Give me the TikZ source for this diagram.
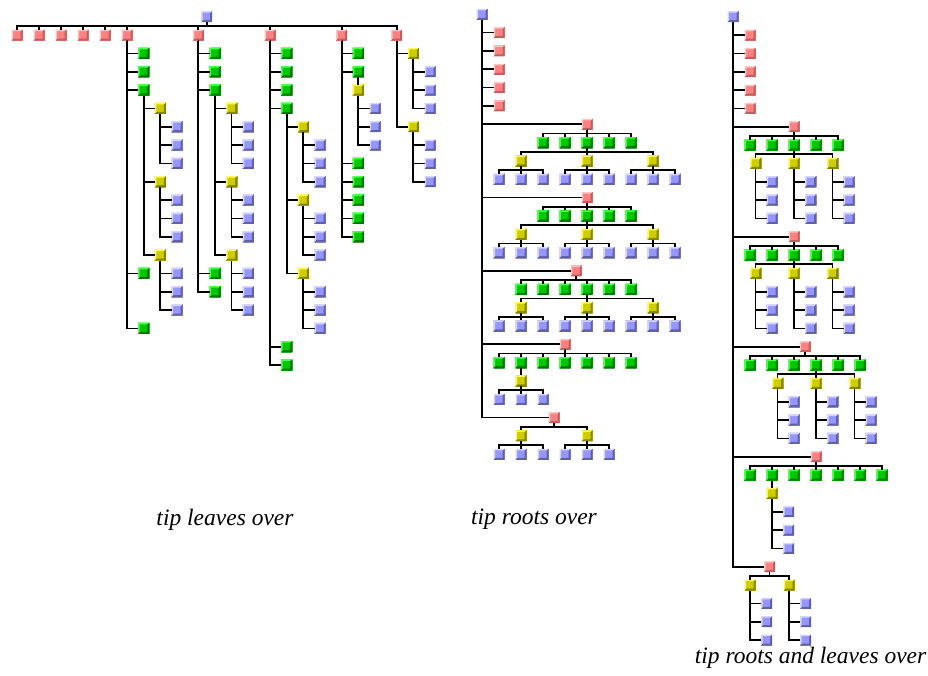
\documentclass[tikz,border=0pt]{standalone}
\usepackage{fontspec}
\setmainfont{Liberation Serif}

\definecolor{cellblue}{RGB}{150,150,255}
\definecolor{cellred}{RGB}{255,128,128}
\definecolor{cellgreen}{RGB}{0,200,0}
\definecolor{cellyellow}{RGB}{205,205,0}

\newcommand{\tipto}[2]{\draw[link] (#1.south) |- (#2.west);}
\newcommand{\barto}[2]{\draw[link] (#1.south) -- ++(0,0.2) -| (#2.north);}

\begin{document}
\begin{tikzpicture}[
		x=1pt, y=-18.333pt,
		cell/.style={rectangle, minimum size=11pt, inner sep=0pt, outer sep=0pt},
		bevel/.style 2 args={path picture={
				\fill[#1] (path picture bounding box.south west) |- (path picture bounding box.north east)
					-- ++(-1.5pt,-1.5pt) -| ([shift={(1.5pt,1.5pt)}]path picture bounding box.south west) -- cycle;
				\fill[#2] (path picture bounding box.south west) -| (path picture bounding box.north east)
					-- ++(-2pt,-2pt) |- ([shift={(2pt,2pt)}]path picture bounding box.south west) -- cycle;
		}},
		bluecell/.style={cell, fill=cellblue, bevel={cellblue!40!white}{cellblue!65!black}},
		redcell/.style={cell, fill=cellred, bevel={cellred!45!white}{cellred!75!black}},
		greencell/.style={cell, fill=cellgreen, bevel={green!70!white}{cellgreen!60!black}},
		yellowcell/.style={cell, fill=cellyellow, bevel={yellow!60!white}{cellyellow!65!black}},
		link/.style={line width=1.7pt, black},
		captext/.style={font=\fontsize{23.5}{28}\selectfont\itshape, inner sep=0pt}
	]
	\useasboundingbox (0pt,0pt) rectangle (928pt,-675pt);
	
	% tip leaves over
	\begin{scope}[yshift=-16.7pt]
		\node[bluecell] (L) at (206.7,0) {};
		\foreach \i in {1,...,6}
			\node[redcell] (L\i) at ({17+22*(\i-1)},1) {};
		\node[redcell] (L7) at (198.3,1) {};
		\node[redcell] (L8) at (270,1) {};
		\node[redcell] (L9) at (341.7,1) {};
		\node[redcell] (L10) at (396.7,1) {};
		\foreach \i in {1,...,10}
			\barto{L}{L\i}
		% L6 and L7 differ only in the last green
		\foreach \t/\x/\last in {6/127/17, 7/198.3/15}{
			\foreach \g/\row in {1/2, 2/3, 3/4, 4/14, 5/\last}{
				\node[greencell] (L\t g\g) at (\x+16.7,\row) {};
				\tipto{L\t}{L\t g\g}
			}
			\foreach \y/\row in {1/5, 2/9, 3/13}{
				\node[yellowcell] (L\t g3y\y) at (\x+33.3,\row) {};
				\tipto{L\t g3}{L\t g3y\y}
				\foreach \lf in {1,2,3}{
					\node[bluecell] (L\t g3y\y b\lf) at (\x+50,\row+\lf) {};
					\tipto{L\t g3y\y}{L\t g3y\y b\lf}
				}
			}
		}
		\foreach \g/\row in {1/2, 2/3, 3/4, 4/5, 5/18, 6/19}{
			\node[greencell] (L8g\g) at (286.7,\row) {};
			\tipto{L8}{L8g\g}
		}
		\foreach \y/\row in {1/6, 2/10, 3/14}{
			\node[yellowcell] (L8g4y\y) at (303.3,\row) {};
			\tipto{L8g4}{L8g4y\y}
			\foreach \lf in {1,2,3}{
				\node[bluecell] (L8g4y\y b\lf) at (320,\row+\lf) {};
				\tipto{L8g4y\y}{L8g4y\y b\lf}
			}
		}
		\foreach \g/\row in {1/2, 2/3, 3/8, 4/9, 5/10, 6/11, 7/12}{
			\node[greencell] (L9g\g) at (358.3,\row) {};
			\tipto{L9}{L9g\g}
		}
		\node[yellowcell] (L9g2y1) at (358.3,4) {};
		\barto{L9g2}{L9g2y1}
		\foreach \lf in {1,2,3}{
			\node[bluecell] (L9g2y1b\lf) at (375,4+\lf) {};
			\tipto{L9g2y1}{L9g2y1b\lf}
		}
		\foreach \y/\row in {1/2, 2/6}{
			\node[yellowcell] (L10y\y) at (413.3,\row) {};
			\tipto{L10}{L10y\y}
			\foreach \lf in {1,2,3}{
				\node[bluecell] (L10y\y b\lf) at (430,\row+\lf) {};
				\tipto{L10y\y}{L10y\y b\lf}
			}
		}
	\end{scope}
	
	% tip roots over
	\begin{scope}[yshift=-14.3pt]
		\node[bluecell] (M) at (482,0) {};
		\foreach \i in {1,...,5}
			\node[redcell] (M\i) at (499,\i) {};
		\node[redcell] (M6) at (587,6) {};
		\node[redcell] (M7) at (587,10) {};
		\node[redcell] (M8) at (576,14) {};
		\node[redcell] (M9) at (565,18) {};
		\node[redcell] (M10) at (554,22) {};
		\foreach \i in {1,...,10}
			\tipto{M}{M\i}
		\foreach \t/\row in {6/6, 7/10}{
			\foreach \g in {1,...,5}{
				\node[greencell] (M\t g\g) at ({521+22*\g},\row+1) {};
				\barto{M\t}{M\t g\g}
			}
			\foreach \y in {1,2,3}{
				\node[yellowcell] (M\t g3y\y) at ({455+66*\y},\row+2) {};
				\barto{M\t g3}{M\t g3y\y}
				\foreach \lf in {1,2,3}{
					\node[bluecell] (M\t g3y\y b\lf) at ({411+66*\y+22*\lf},\row+3) {};
					\barto{M\t g3y\y}{M\t g3y\y b\lf}
				}
			}
		}
		\foreach \g in {1,...,6}{
			\node[greencell] (M8g\g) at ({499+22*\g},15) {};
			\barto{M8}{M8g\g}
		}
		\foreach \y in {1,2,3}{
			\node[yellowcell] (M8g4y\y) at ({455+66*\y},16) {};
			\barto{M8g4}{M8g4y\y}
			\foreach \lf in {1,2,3}{
				\node[bluecell] (M8g4y\y b\lf) at ({411+66*\y+22*\lf},17) {};
				\barto{M8g4y\y}{M8g4y\y b\lf}
			}
		}
		\foreach \g in {1,...,7}{
			\node[greencell] (M9g\g) at ({477+22*\g},19) {};
			\barto{M9}{M9g\g}
		}
		\node[yellowcell] (M9g2y1) at (521,20) {};
		\barto{M9g2}{M9g2y1}
		\foreach \lf in {1,2,3}{
			\node[bluecell] (M9g2y1b\lf) at ({477+22*\lf},21) {};
			\barto{M9g2y1}{M9g2y1b\lf}
		}
		\foreach \y in {1,2}{
			\node[yellowcell] (M10y\y) at ({455+66*\y},23) {};
			\barto{M10}{M10y\y}
			\foreach \lf in {1,2,3}{
				\node[bluecell] (M10y\y b\lf) at ({411+66*\y+22*\lf},24) {};
				\barto{M10y\y}{M10y\y b\lf}
			}
		}
	\end{scope}
	
	% tip roots and leaves over
	\begin{scope}[yshift=-16.7pt]
		\node[bluecell] (R) at (733,0) {};
		\foreach \i in {1,...,5}
			\node[redcell] (R\i) at (750,\i) {};
		\node[redcell] (R6) at (794,6) {};
		\node[redcell] (R7) at (794,12) {};
		\node[redcell] (R8) at (805,18) {};
		\node[redcell] (R9) at (816,24) {};
		\node[redcell] (R10) at (769.5,30) {};
		\foreach \i in {1,...,10}
			\tipto{R}{R\i}
		\foreach \t/\row in {6/6, 7/12}{
			\foreach \g in {1,...,5}{
				\node[greencell] (R\t g\g) at ({728+22*\g},\row+1) {};
				\barto{R\t}{R\t g\g}
			}
			\foreach \y in {1,2,3}{
				\node[yellowcell] (R\t g3y\y) at ({717+38.5*\y},\row+2) {};
				\barto{R\t g3}{R\t g3y\y}
				\foreach \lf in {1,2,3}{
					\node[bluecell] (R\t g3y\y b\lf) at ({733.7+38.5*\y},\row+2+\lf) {};
					\tipto{R\t g3y\y}{R\t g3y\y b\lf}
				}
			}
		}
		\foreach \g in {1,...,6}{
			\node[greencell] (R8g\g) at ({728+22*\g},19) {};
			\barto{R8}{R8g\g}
		}
		\foreach \y in {1,2,3}{
			\node[yellowcell] (R8g4y\y) at ({739+38.5*\y},20) {};
			\barto{R8g4}{R8g4y\y}
			\foreach \lf in {1,2,3}{
				\node[bluecell] (R8g4y\y b\lf) at ({755.7+38.5*\y},20+\lf) {};
				\tipto{R8g4y\y}{R8g4y\y b\lf}
			}
		}
		\foreach \g in {1,...,7}{
			\node[greencell] (R9g\g) at ({728+22*\g},25) {};
			\barto{R9}{R9g\g}
		}
		\node[yellowcell] (R9g2y1) at (772,26) {};
		\barto{R9g2}{R9g2y1}
		\foreach \lf in {1,2,3}{
			\node[bluecell] (R9g2y1b\lf) at (788.7,26+\lf) {};
			\tipto{R9g2y1}{R9g2y1b\lf}
		}
		\foreach \y in {1,2}{
			\node[yellowcell] (R10y\y) at ({711+39*\y},31) {};
			\barto{R10}{R10y\y}
			\foreach \lf in {1,2,3}{
				\node[bluecell] (R10y\y b\lf) at ({727.7+39*\y},31+\lf) {};
				\tipto{R10y\y}{R10y\y b\lf}
			}
		}
	\end{scope}
	
	\node[captext, anchor=base] (capL) at (225pt,-525pt) {tip leaves over};
	\node[captext, anchor=base] (capM) at (534pt,-524.5pt) {tip roots over};
	\node[captext, anchor=base east] (capR) at (926.5pt,-663pt) {tip roots and leaves over};
\end{tikzpicture}
\end{document}
